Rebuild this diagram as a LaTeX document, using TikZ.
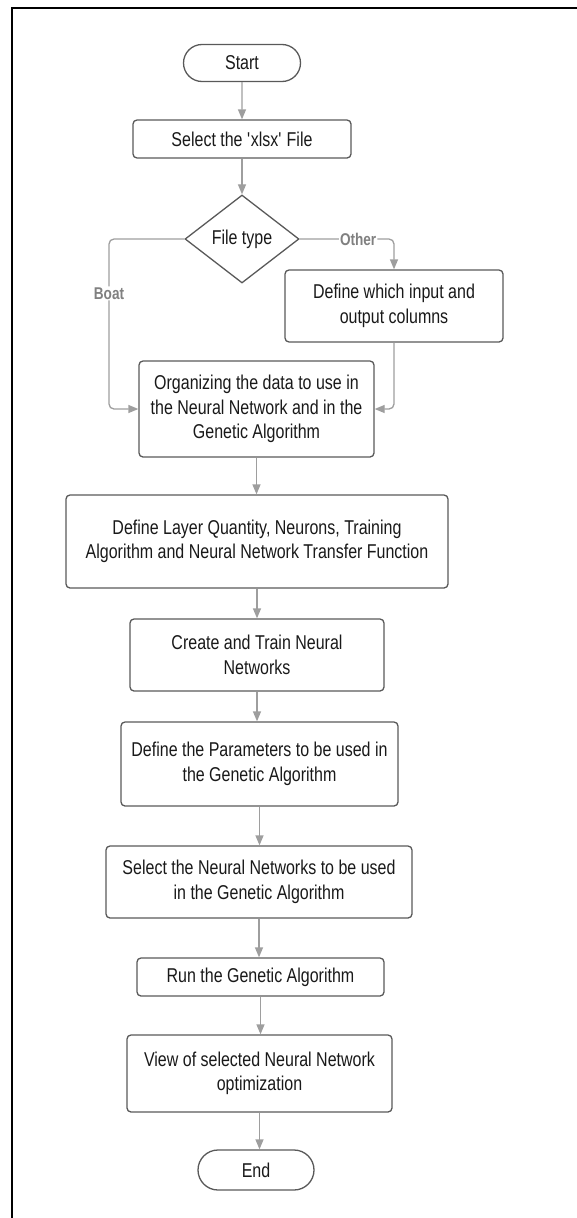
\documentclass[tikz,border=0pt]{standalone}
\usepackage{fontspec}
\setmainfont{Liberation Sans}[FakeStretch=0.8]
\usetikzlibrary{arrows.meta,shapes,positioning,calc}
\usepackage{xcolor}

\begin{document}
\begin{tikzpicture}[x=1pt, y=-1pt,
    box/.style={draw=black!65, line width=1.3pt, rounded corners=4pt, align=center,
        inner sep=0pt, font=\fontsize{20}{24.5}\selectfont, text=black!90},
    term/.style={draw=black!65, line width=1.3pt, rounded rectangle, inner sep=0pt,
        font=\fontsize{20}{24.5}\selectfont, text=black!90},
    decide/.style={draw=black!65, line width=1.3pt, diamond, inner sep=0pt,
        font=\fontsize{20}{24.5}\selectfont, text=black!90},
    flow/.style={draw=black!38, line width=1.3pt, -{Triangle[length=10pt,width=8pt]}},
    lbl/.style={fill=white, inner sep=1pt, text=black!50, font=\bfseries\fontsize{17}{19}\selectfont}]
    \useasboundingbox (0,0) rectangle (577,1218);
    % frame
    \draw[line width=2pt] (11.5,1218) -- (11.5,7.5) -- (577,7.5);

    % Start and file choice
    \node[term, minimum width=117pt, minimum height=37pt] (start) at (242,63) {Start};
    \node[box, minimum width=218pt, minimum height=38pt] (select) at (242,139) {Select the \textquotesingle xlsx\textquotesingle{} File};
    \node[decide, minimum width=114pt, minimum height=88pt] (ftype) at (242,239) {File type};
    \node[box, minimum width=218pt, minimum height=72pt] (defcols) at (394,306) {Define which input and\\output columns};
    \node[box, minimum width=235pt, minimum height=96pt] (organize) at (256.5,409) {Organizing the data to use in\\the Neural Network and in the\\Genetic Algorithm};

    % Network setup
    \node[box, minimum width=382pt, minimum height=93pt] (layers) at (257,541.5) {Define Layer Quantity, Neurons, Training\\Algorithm and Neural Network Transfer Function};
    \node[box, minimum width=254pt, minimum height=72pt] (create) at (257,655) {Create and Train Neural\\Networks};
    \node[box, minimum width=277pt, minimum height=84pt] (params) at (259.5,764) {Define the Parameters to be used in\\the Genetic Algorithm};
    \node[box, minimum width=306pt, minimum height=72pt] (selnn) at (259,882) {Select the Neural Networks to be used\\in the Genetic Algorithm};
    \node[box, minimum width=247pt, minimum height=38pt] (run) at (260.5,977) {Run the Genetic Algorithm};
    \node[box, minimum width=265pt, minimum height=77pt] (view) at (259.5,1073.5) {View of selected Neural Network\\optimization};
    \node[term, minimum width=116pt, minimum height=40pt] (end) at (256,1170) {End};

    % Branches
    \coordinate (boatturn) at (109,239);
    \draw[flow, rounded corners=5pt] (ftype.west) -- (boatturn) |- (organize.west)
        node[lbl, pos=0.16] (boat) {Boat};
    \draw[flow, rounded corners=5pt] (ftype.east) -| (defcols.north)
        node[lbl, pos=0.31] (other) {Other};
    \draw[flow, rounded corners=5pt] (defcols.south) |- (organize.east);

    % Main line
    \draw[flow] (start) -- (select);
    \draw[flow] (select) -- (ftype);
    \draw[flow] (organize.south) -- (organize.south |- layers.north);
    \draw[flow] (layers.south) -- (layers.south |- create.north);
    \draw[flow] (create.south) -- (create.south |- params.north);
    \draw[flow] (params.south) -- (params.south |- selnn.north);
    \draw[flow] (selnn.south) -- (selnn.south |- run.north);
    \draw[flow] (run.south) -- (run.south |- view.north);
    \draw[flow] (view.south) -- (view.south |- end.north);

\end{tikzpicture}
\end{document}
